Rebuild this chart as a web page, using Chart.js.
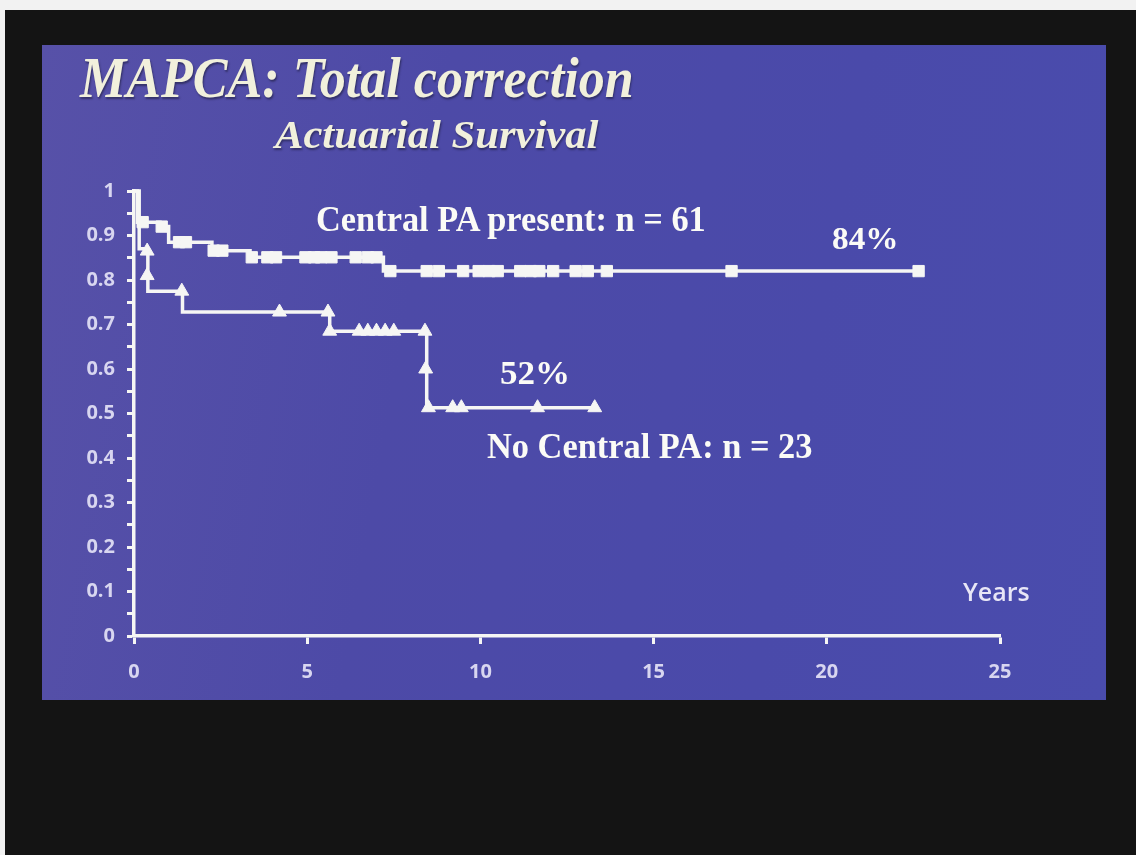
<!DOCTYPE html>
<html>
<head>
<meta charset="utf-8">
<script src="https://cdn.jsdelivr.net/npm/chart.js@4.4.0/dist/chart.umd.min.js"></script>
<style>
  html, body { margin: 0; padding: 0; width: 1136px; height: 855px; overflow: hidden; background: #f2f2f2; }
  #frame { position: absolute; left: 5px; top: 10px; width: 1131px; height: 845px; background: #141414; }
  #slide {
    position: absolute; left: 42px; top: 45px; width: 1064px; height: 655px;
    background: linear-gradient(100deg, #5751a8 0%, #4d4aa7 35%, #4a4aaa 70%, #4a4cad 100%);
  }
  #chart-wrap { position: absolute; left: 0; top: 0; width: 1136px; height: 855px; }
  .txt { position: absolute; white-space: nowrap; line-height: 1; transform-origin: 0 0; color: #fbfbf6; }
  .serif { font-family: "Liberation Serif", "Times New Roman", serif; font-weight: bold; }
  .italic { font-style: italic; }
  .title { color: #f1f0dc; text-shadow: 1px 2px 2px rgba(20, 20, 40, 0.5); }
</style>
</head>
<body>
<div id="frame"></div>
<div id="slide"></div>
<div id="chart-wrap"><canvas id="graficoSobrevida" width="1136" height="855"></canvas></div>

<div class="txt serif italic title" style="left:80px; top:50px; font-size:56px; transform:scaleX(0.93);">MAPCA: Total correction</div>
<div class="txt serif italic title" style="left:275px; top:114px; font-size:41px; transform:scaleX(1.04);">Actuarial Survival</div>
<div class="txt serif" style="left:316px; top:201px; font-size:36px; transform:scaleX(0.955);">Central PA present: n = 61</div>
<div class="txt serif" style="left:832px; top:222px; font-size:32px; transform:scaleX(1.04);">84%</div>
<div class="txt serif" style="left:500px; top:356px; font-size:34px; transform:scaleX(1.03);">52%</div>
<div class="txt serif" style="left:487px; top:428px; font-size:36px; transform:scaleX(0.955);">No Central PA: n = 23</div>
<div class="txt" style="left:963px; top:579px; font-size:25px; font-family:'Open Sans', sans-serif; font-weight:600; color:#e8e6f6;">Years</div>

<script>
// ============================================================
// DADOS
// ============================================================

// Curva superior: Central PA present (n = 61)
const upperStepX = [0, 0.1, 0.75, 1.0, 2.25, 3.35, 7.2, 22.66];
const upperStepY = [1.0, 0.93, 0.92, 0.885, 0.866, 0.851, 0.82, 0.82];

// Marcas de censura (quadrados)
const upperCensorX = [0.25, 0.8, 1.3, 1.5, 2.3, 2.55, 3.4, 3.85, 4.1, 4.95, 5.2, 5.4, 5.7, 6.4, 6.75, 7.0,
                      7.4, 8.45, 8.8, 9.5, 9.95, 10.25, 10.5, 11.15, 11.45, 11.7, 12.1, 12.75, 13.1, 13.65, 17.25, 22.65];
const upperCensorY = [0.93, 0.92, 0.885, 0.885, 0.866, 0.866, 0.851, 0.851, 0.851, 0.851, 0.851, 0.851, 0.851, 0.851, 0.851, 0.851,
                      0.82, 0.82, 0.82, 0.82, 0.82, 0.82, 0.82, 0.82, 0.82, 0.82, 0.82, 0.82, 0.82, 0.82, 0.82, 0.82];

// Curva inferior: No Central PA (n = 23)
const lowerStepX = [0, 0.15, 0.4, 1.4, 5.65, 8.45, 13.4];
const lowerStepY = [1.0, 0.87, 0.775, 0.728, 0.685, 0.513, 0.513];

// Marcas de censura (triângulos)
const lowerCensorX = [0.38, 0.38, 1.38, 4.2, 5.6, 5.65, 6.5, 6.75, 7.0, 7.25, 7.5, 8.4, 8.42, 8.5, 9.2, 9.45, 11.65, 13.3];
const lowerCensorY = [0.865, 0.81, 0.775, 0.728, 0.728, 0.685, 0.685, 0.685, 0.685, 0.685, 0.685, 0.685, 0.6, 0.513, 0.513, 0.513, 0.513, 0.513];

// Eixos
const xTickLabels = ['0', '5', '10', '15', '20', '25'];
const yTickLabels = ['0', '0.1', '0.2', '0.3', '0.4', '0.5', '0.6', '0.7', '0.8', '0.9', '1'];

// ============================================================
// GRÁFICO
// ============================================================

const toPoints = (xs, ys) => xs.map((x, i) => ({ x, y: ys[i] }));
const corLinha = '#f6f6f4';
const corTicks = '#d8d6f0';
const fonteTicks = { family: "'Open Sans', sans-serif", size: 20, weight: '700' };

const ctx = document.getElementById('graficoSobrevida');

new Chart(ctx, {
    type: 'line',
    data: {
        datasets: [
            {
                data: toPoints(upperStepX, upperStepY),
                stepped: 'before',
                borderColor: corLinha,
                borderWidth: 3.5,
                pointRadius: 0,
                clip: false
            },
            {
                data: toPoints(lowerStepX, lowerStepY),
                stepped: 'before',
                borderColor: corLinha,
                borderWidth: 3.5,
                pointRadius: 0,
                clip: false
            },
            {
                data: toPoints(upperCensorX, upperCensorY),
                showLine: false,
                pointStyle: 'rect',
                pointRadius: 8,
                backgroundColor: corLinha,
                borderColor: corLinha,
                borderWidth: 1,
                clip: false
            },
            {
                data: toPoints(lowerCensorX, lowerCensorY),
                showLine: false,
                pointStyle: 'triangle',
                pointRadius: 8,
                backgroundColor: corLinha,
                borderColor: corLinha,
                borderWidth: 1,
                clip: false
            }
        ]
    },
    options: {
        responsive: false,
        animation: false,
        layout: { padding: { left: 60, top: 191, right: 136, bottom: 159 } },
        plugins: { legend: { display: false }, tooltip: { enabled: false } },
        scales: {
            x: {
                type: 'linear',
                min: 0,
                max: 25,
                afterFit: scale => { scale.height = 60; },
                ticks: {
                    stepSize: 5,
                    autoSkip: false,
                    color: corTicks,
                    font: fonteTicks,
                    padding: 16,
                    callback: v => xTickLabels[Math.round(v / 5)]
                },
                grid: { drawOnChartArea: false, drawTicks: true, tickLength: 8, tickWidth: 3, tickColor: corLinha },
                border: { display: true, color: corLinha, width: 3.5 }
            },
            y: {
                type: 'linear',
                min: 0,
                max: 1,
                afterFit: scale => { scale.width = 74; },
                ticks: {
                    stepSize: 0.05,
                    autoSkip: false,
                    color: corTicks,
                    font: fonteTicks,
                    padding: 12,
                    callback: v => {
                        const i = Math.round(v * 10);
                        return Math.abs(v * 10 - i) < 1e-6 ? yTickLabels[i] : '';
                    }
                },
                grid: { drawOnChartArea: false, drawTicks: true, tickLength: 7, tickWidth: 3, tickColor: corLinha },
                border: { display: true, color: corLinha, width: 3.5 }
            }
        }
    }
});
</script>
</body>
</html>
